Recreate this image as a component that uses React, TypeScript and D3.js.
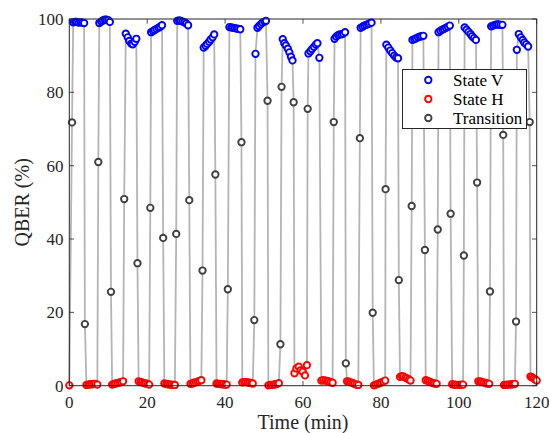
import React from 'react';
import * as d3 from 'd3';

const WIDTH = 549;
const HEIGHT = 433;
const PLOT = { left: 69.3, right: 536.7, top: 19, bottom: 385.7 };

const xTicks = [0, 20, 40, 60, 80, 100, 120];
const yTicks = [0, 20, 40, 60, 80, 100];

// State V measurement blocks (time in min, QBER in %)
const vTime: number[][] = [
  [1.0, 1.5, 1.9, 2.4, 2.9, 3.3, 3.8],
  [7.7, 8.2, 8.6, 9.1, 9.5, 10.0, 10.4],
  [14.5, 15.0, 15.4, 15.9, 16.3, 16.8, 17.2],
  [21.0, 21.5, 21.9, 22.4, 22.9, 23.3, 23.8],
  [27.7, 28.2, 28.6, 29.1, 29.6, 30.0, 30.5],
  [34.5, 35.0, 35.4, 35.9, 36.3, 36.8, 37.2],
  [41.1, 41.6, 42.0, 42.5, 43.0, 43.4, 43.9],
  [47.8, 48.3, 48.7, 49.2, 49.6, 50.1, 50.5],
  [54.8, 55.2, 55.6, 56.1, 56.5, 56.9, 57.3],
  [61.4, 61.9, 62.3, 62.8, 63.3, 63.7, 64.2],
  [68.1, 68.5, 69.0, 69.4, 69.9, 70.3, 70.8],
  [74.8, 75.3, 75.7, 76.2, 76.7, 77.1, 77.6],
  [81.4, 81.9, 82.4, 82.9, 83.4, 83.9, 84.4],
  [88.1, 88.6, 89.0, 89.5, 90.0, 90.4, 90.9],
  [94.8, 95.3, 95.8, 96.2, 96.7, 97.2, 97.7],
  [101.5, 102.0, 102.5, 103.0, 103.4, 103.9, 104.4],
  [108.3, 108.8, 109.3, 109.8, 110.2, 110.7, 111.2],
  [114.9, 115.4, 115.9, 116.4, 116.8, 117.3, 117.8],
];
const vQber: number[][] = [
  [99.1, 99.2, 99.2, 99.0, 99.1, 99.0, 98.9],
  [98.9, 99.3, 99.6, 99.8, 99.8, 99.7, 99.2],
  [96.0, 95.0, 94.0, 93.3, 93.1, 93.8, 94.6],
  [96.4, 96.7, 97.0, 97.3, 97.6, 97.9, 98.3],
  [99.5, 99.6, 99.5, 99.3, 99.1, 98.8, 98.3],
  [92.2, 92.7, 93.2, 93.8, 94.4, 95.0, 95.8],
  [97.8, 97.7, 97.6, 97.5, 97.4, 97.3, 97.2],
  [90.5, 97.6, 98.1, 98.6, 99.0, 99.3, 99.5],
  [94.5, 93.4, 92.8, 91.9, 90.9, 89.7, 88.7],
  [90.6, 91.2, 91.8, 92.4, 93.0, 93.4, 89.4],
  [94.6, 95.2, 95.6, 95.8, 95.8, 96.0, 96.4],
  [97.6, 97.9, 98.2, 98.4, 98.6, 98.8, 99.0],
  [93.0, 92.2, 91.4, 90.7, 90.0, 89.5, 89.3],
  [94.3, 94.5, 94.7, 95.0, 95.2, 95.3, 95.4],
  [96.4, 96.8, 97.1, 97.3, 97.6, 97.9, 98.2],
  [97.7, 97.1, 96.5, 95.9, 95.3, 94.8, 94.3],
  [98.0, 98.2, 98.4, 98.5, 98.5, 98.4, 98.4],
  [91.6, 95.9, 95.0, 94.3, 93.6, 93.1, 92.5],
];

// State H measurement blocks
const hTime: number[][] = [
  [0.0],
  [4.4, 4.9, 5.3, 5.8, 6.3, 6.7, 7.2],
  [11.0, 11.5, 11.9, 12.4, 12.9, 13.3, 13.8],
  [17.8, 18.3, 18.7, 19.2, 19.6, 20.1, 20.5],
  [24.4, 24.9, 25.3, 25.8, 26.2, 26.7, 27.1],
  [31.1, 31.6, 32.0, 32.5, 33.0, 33.4, 33.9],
  [37.8, 38.2, 38.7, 39.1, 39.5, 40.0, 40.4],
  [44.4, 44.9, 45.3, 45.8, 46.2, 46.7, 47.1],
  [51.1, 51.6, 52.0, 52.5, 52.9, 53.4, 53.8],
  [57.8, 58.3, 58.9, 59.4, 59.9, 60.5, 61.0],
  [64.7, 65.2, 65.7, 66.2, 66.6, 67.1, 67.6],
  [71.3, 71.8, 72.3, 72.8, 73.2, 73.7, 74.2],
  [78.2, 78.7, 79.2, 79.7, 80.1, 80.6, 81.1],
  [84.9, 85.4, 85.8, 86.3, 86.7, 87.2, 87.6],
  [91.5, 92.0, 92.4, 92.9, 93.4, 93.8, 94.3],
  [98.3, 98.8, 99.2, 99.7, 100.2, 100.6, 101.1],
  [105.0, 105.5, 105.9, 106.4, 106.9, 107.3, 107.8],
  [111.6, 112.1, 112.5, 113.0, 113.5, 113.9, 114.4],
  [118.4, 118.8, 119.2, 119.6, 120.0],
];
const hQber: number[][] = [
  [0.1],
  [0.2, 0.3, 0.4, 0.4, 0.5, 0.5, 0.3],
  [0.3, 0.5, 0.6, 0.7, 0.9, 1.0, 1.2],
  [1.2, 1.0, 0.9, 0.7, 0.6, 0.5, 0.3],
  [0.6, 0.5, 0.4, 0.3, 0.3, 0.2, 0.2],
  [0.5, 0.6, 0.8, 0.9, 1.1, 1.3, 1.5],
  [0.6, 0.5, 0.5, 0.4, 0.4, 0.3, 0.3],
  [0.9, 1.0, 1.0, 0.9, 0.8, 0.7, 0.6],
  [0.1, 0.2, 0.2, 0.3, 0.4, 0.5, 0.7],
  [3.4, 4.7, 5.2, 4.2, 3.8, 2.8, 5.6],
  [1.4, 1.5, 1.4, 1.3, 1.2, 1.0, 0.8],
  [1.2, 1.1, 0.9, 0.7, 0.5, 0.3, 0.2],
  [0.1, 0.3, 0.5, 0.7, 0.9, 1.1, 1.4],
  [2.4, 2.6, 2.5, 2.2, 2.0, 1.7, 1.4],
  [1.5, 1.3, 1.1, 0.9, 0.7, 0.6, 0.5],
  [0.4, 0.3, 0.2, 0.2, 0.2, 0.3, 0.3],
  [1.2, 1.2, 1.0, 0.9, 0.7, 0.6, 0.5],
  [0.2, 0.2, 0.3, 0.3, 0.4, 0.4, 0.5],
  [2.5, 2.3, 2.0, 1.7, 1.4],
];

// Points caught while switching between states
const tTime = [
  0.7, 4.0, 7.45, 10.7, 14.1, 17.5, 20.8, 24.1, 27.45, 30.8, 34.2, 37.5,
  40.7, 44.2, 47.5, 50.9, 54.2, 54.5, 57.6, 61.2, 67.9, 71.0, 74.6, 77.9,
  81.2, 84.6, 87.9, 91.3, 94.6, 97.9, 101.3, 104.7, 108.0, 111.4, 114.7, 118.2,
];
const tQber = [
  71.8, 16.8, 61.0, 25.6, 50.9, 33.4, 48.5, 40.3, 41.4, 50.6, 31.4, 57.6,
  26.3, 66.4, 17.9, 77.7, 11.3, 81.5, 77.3, 75.5, 71.9, 6.1, 67.5, 19.9,
  53.6, 28.8, 49.0, 37.0, 42.6, 46.9, 35.5, 55.4, 25.7, 68.4, 17.5, 71.9,
];

const COLOR_V = '#0000ff';
const COLOR_H = '#ff0000';
const COLOR_T = '#404040';
const AXIS = '#262626';
const FONT = "'Liberation Serif', 'Times New Roman', serif";

type Pt = { t: number; q: number };

function flatten(times: number[][], vals: number[][]): Pt[] {
  const out: Pt[] = [];
  times.forEach((row, i) => row.forEach((t, j) => out.push({ t, q: vals[i][j] })));
  return out;
}

export default function App() {
  const x = d3.scaleLinear().domain([0, 120]).range([PLOT.left, PLOT.right]);
  const y = d3.scaleLinear().domain([0, 100]).range([PLOT.bottom, PLOT.top]);

  const vPts = flatten(vTime, vQber);
  const hPts = flatten(hTime, hQber);
  const tPts: Pt[] = tTime.map((t, i) => ({ t, q: tQber[i] }));
  const all = [...vPts, ...hPts, ...tPts].sort((a, b) => a.t - b.t);

  const line = d3
    .line<Pt>()
    .x((d) => x(d.t))
    .y((d) => y(d.q));

  const r = 3.2;
  const sw = 1.9;
  const tickLen = 4.7;

  const legendRows = [
    { label: 'State V', color: COLOR_V },
    { label: 'State H', color: COLOR_H },
    { label: 'Transition', color: COLOR_T },
  ];

  return (
    <svg
      width={WIDTH}
      height={HEIGHT}
      style={{ position: 'absolute', left: 0, top: 0, background: '#fff' }}
    >
      <rect x={0} y={0} width={WIDTH} height={HEIGHT} fill="#fff" />
      <path d={line(all) ?? ''} fill="none" stroke="#b4b4b4" strokeWidth={1.8} />

      {tPts.map((d, i) => (
        <circle key={`t${i}`} cx={x(d.t)} cy={y(d.q)} r={r} fill="#fff" stroke={COLOR_T} strokeWidth={sw} />
      ))}
      {vPts.map((d, i) => (
        <circle key={`v${i}`} cx={x(d.t)} cy={y(d.q)} r={r} fill="#fff" stroke={COLOR_V} strokeWidth={sw} />
      ))}
      {hPts.map((d, i) => (
        <circle key={`h${i}`} cx={x(d.t)} cy={y(d.q)} r={r} fill="#fff" stroke={COLOR_H} strokeWidth={sw} />
      ))}

      {/* axes box */}
      <rect
        x={PLOT.left}
        y={PLOT.top}
        width={PLOT.right - PLOT.left}
        height={PLOT.bottom - PLOT.top}
        fill="none"
        stroke={AXIS}
        strokeWidth={1}
      />
      {xTicks.map((v) => (
        <g key={`xt${v}`}>
          <line x1={x(v)} x2={x(v)} y1={PLOT.bottom} y2={PLOT.bottom - tickLen} stroke={AXIS} strokeWidth={0.8} />
          <line x1={x(v)} x2={x(v)} y1={PLOT.top} y2={PLOT.top + tickLen} stroke={AXIS} strokeWidth={0.8} />
          <text x={x(v)} y={407.5} textAnchor="middle" fontFamily={FONT} fontSize={17} fill={AXIS}>
            {v}
          </text>
        </g>
      ))}
      {yTicks.map((v) => (
        <g key={`yt${v}`}>
          <line x1={PLOT.left} x2={PLOT.left + tickLen} y1={y(v)} y2={y(v)} stroke={AXIS} strokeWidth={0.8} />
          <line x1={PLOT.right} x2={PLOT.right - tickLen} y1={y(v)} y2={y(v)} stroke={AXIS} strokeWidth={0.8} />
          <text x={63.5} y={y(v) + 6} textAnchor="end" fontFamily={FONT} fontSize={17} fill={AXIS}>
            {v}
          </text>
        </g>
      ))}

      <text x={(PLOT.left + PLOT.right) / 2} y={429} textAnchor="middle" fontFamily={FONT} fontSize={20} fill={AXIS}>
        Time (min)
      </text>
      <text
        transform={`translate(29, ${(PLOT.top + PLOT.bottom) / 2}) rotate(-90)`}
        textAnchor="middle"
        fontFamily={FONT}
        fontSize={20}
        fill={AXIS}
      >
        QBER (%)
      </text>

      {/* legend */}
      <rect x={402.5} y={69.5} width={124} height={59} fill="#fff" stroke={AXIS} strokeWidth={1} />
      {legendRows.map((row, i) => (
        <g key={row.label}>
          <circle cx={428.3} cy={80 + i * 19} r={r} fill="#fff" stroke={row.color} strokeWidth={sw} />
          <text x={453} y={80 + i * 19 + 5.5} fontFamily={FONT} fontSize={17} fill="#000">
            {row.label}
          </text>
        </g>
      ))}
    </svg>
  );
}
